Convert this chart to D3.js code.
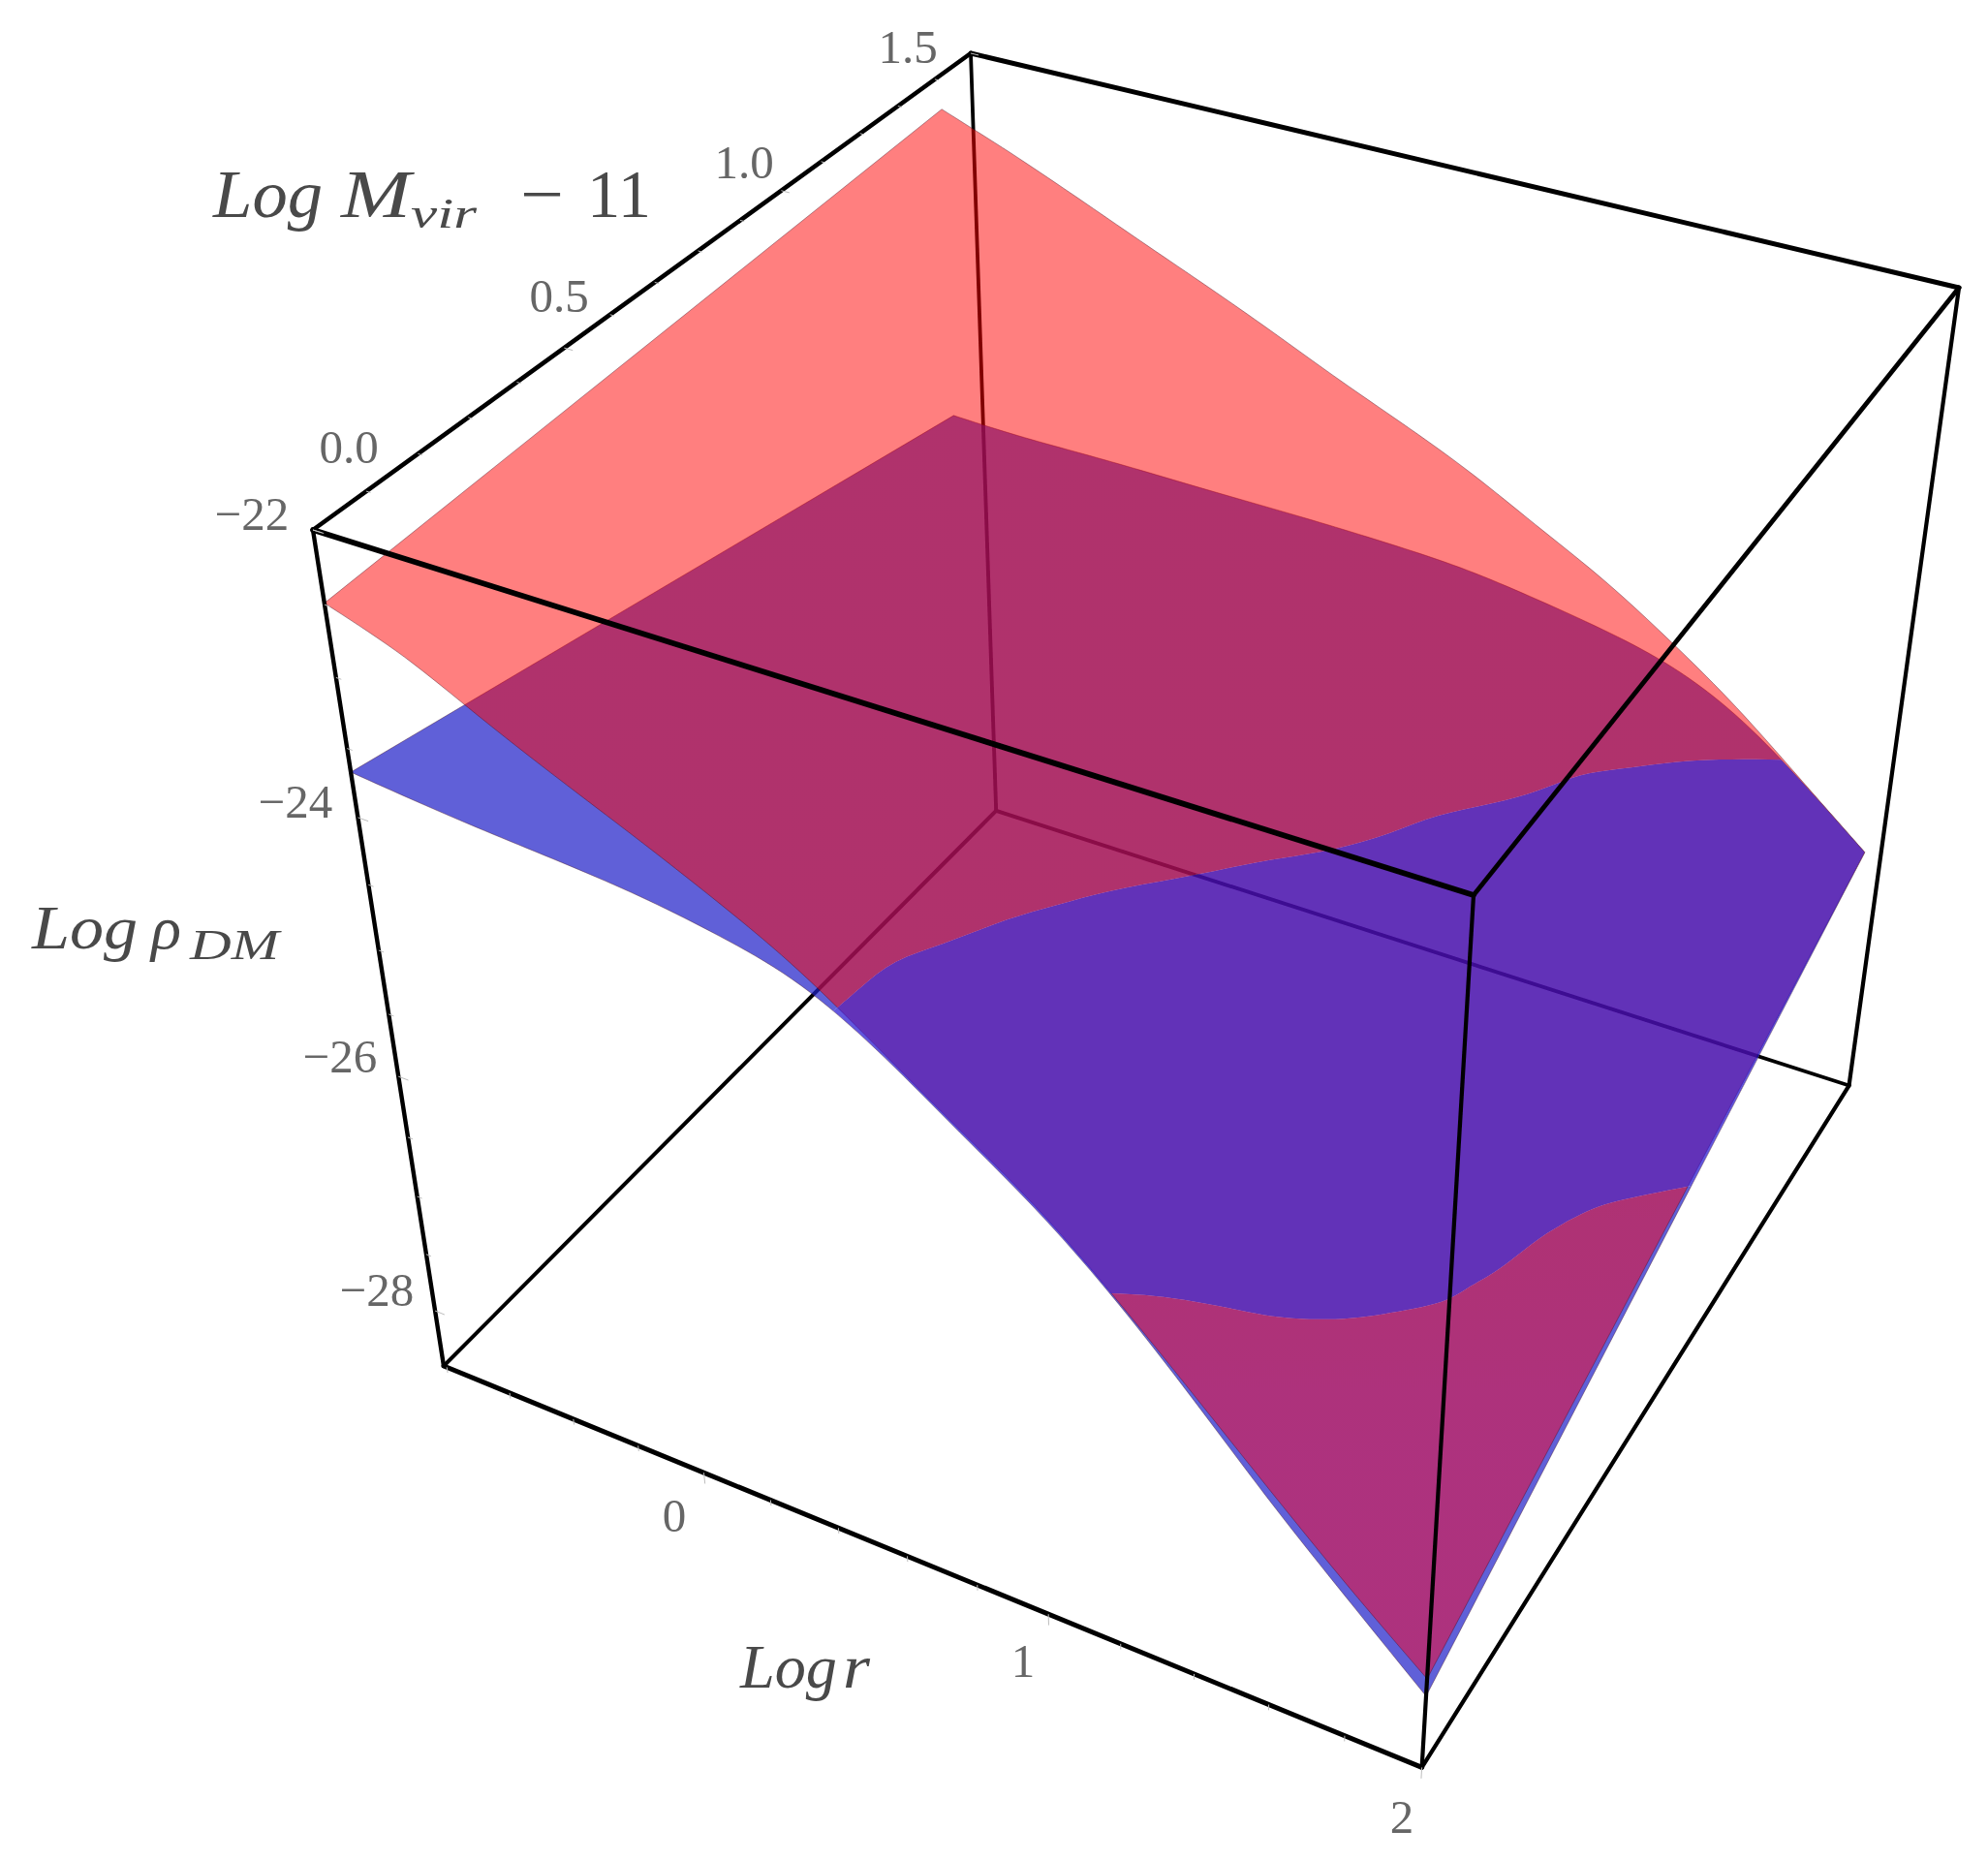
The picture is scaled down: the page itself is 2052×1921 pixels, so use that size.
<!DOCTYPE html>
<html><head><meta charset="utf-8"><style>html,body{margin:0;background:#fff}svg{display:block}</style>
<script src="https://cdn.jsdelivr.net/npm/d3@7"></script></head>
<body><svg id="c" width="2052" height="1921"></svg>
<script>
// ---------- data ----------
const logR = [-0.81,-0.6,-0.4,-0.2,0,0.2,0.4,0.6,0.8,1,1.2,1.4,1.6,1.8,2];
const redAtMin  = [-22.489,-22.670,-22.955,-23.205,-23.441,-23.696,-23.972,-24.360,-24.754,-25.124,-25.615,-26.155,-26.702,-27.234,-27.720];
const blueAtMin = [-23.670,-23.731,-23.774,-23.807,-23.854,-23.943,-24.063,-24.371,-24.774,-25.146,-25.624,-26.194,-26.798,-27.337,-27.870];
const redAtMax  = [-22.254,-22.452,-22.660,-22.880,-23.090,-23.311,-23.550,-23.763,-23.991,-24.278,-24.542,-24.882,-25.248,-25.692,-26.130];
const blueAtMax = [-24.684,-24.707,-24.702,-24.704,-24.715,-24.717,-24.724,-24.740,-24.766,-24.846,-24.937,-25.058,-25.298,-25.692,-26.130];
const massMin = 0, massMax = 1.4155;
const crossUpperR = [0.489,0.491,0.491,0.542,0.587,0.644,0.703,0.819,0.906,0.986,1.081,1.139,1.245,1.319,1.362,1.451,1.538,1.630,1.741];
const crossUpperM = [0,0.047,0.127,0.209,0.306,0.387,0.472,0.591,0.683,0.749,0.849,0.935,1.023,1.097,1.153,1.214,1.279,1.341,1.4155];
const crossLowerR = [2,1.884,1.840,1.779,1.748,1.706,1.688,1.610,1.542,1.442,1.390,1.260,1.182];
const crossLowerM = [0.803,0.697,0.650,0.559,0.483,0.422,0.385,0.312,0.248,0.173,0.142,0.062,0];
const rTickLabels = ["0","1","2"], mTickLabels = ["0.0","0.5","1.0","1.5"], rhoTickLabels = ["\u221222","\u221224","\u221226","\u221228"];

// ---------- layout ----------
const corner = {A:[323,547], D:[1521,924], B:[1002,55], E:[458,1410]};
const persp = {p:-0.1244, q:0.2356, s:0.18};
const rLabelPos = [[696,1564],[1056,1714],[1447,1875]];
const mLabelPos = [[360,461],[577,305],[768,167],[937,48]];
const rhoLabelPos = [[260,530],[305,827],[351,1090],[389,1331]];

const rScale = d3.scaleLinear().domain([-0.81,2]).range([0,1]);
const mScale = d3.scaleLinear().domain([0,1.5]).range([0,1]);
const zScale = d3.scaleLinear().domain([-22,-28.5]).range([0,1]);
const sub = (P,Q)=>[P[0]-Q[0],P[1]-Q[1]], mul=(P,k)=>[P[0]*k,P[1]*k];
const ax = sub(mul(corner.D,1+persp.p),corner.A), ay = sub(mul(corner.B,1+persp.q),corner.A), az = sub(mul(corner.E,1+persp.s),corner.A);
const project = (r,m,z)=>{
  const u=rScale(r), v=mScale(m), w=zScale(z), n=1+persp.p*u+persp.q*v+persp.s*w;
  return [0,1].map(i=>(corner.A[i]+ax[i]*u+ay[i]*v+az[i]*w)/n);
};
const rIndex = d3.scaleLinear().domain(logR).range(logR.map((_,i)=>i/(logR.length-1)));
const byR = a=>{const b=d3.interpolateBasis(a);return r=>b(Math.min(1,Math.max(0,rIndex(r))));};
const surface = (lo,hi)=>{
  const f0=byR(lo), f1=byR(hi), t=d3.scaleLinear().domain([massMin,massMax]).range([0,1]);
  return (r,m)=>{const a=t(m);return f0(r)*(1-a)+f1(r)*a;};
};
const redS = surface(redAtMin,redAtMax), blueS = surface(blueAtMin,blueAtMax);
const [r0,r1]=rScale.domain(), [m0,m1]=mScale.domain(), [z0,z1]=zScale.domain();
const fineR = d3.range(0,121).map(i=>r0+(r1-r0)*i/120);
const outline = S=>{
  const pts=[];
  fineR.forEach(r=>pts.push([r,massMin]));
  fineR.slice().reverse().forEach(r=>pts.push([r,massMax]));
  return pts.map(([r,m])=>project(r,m,S(r,m)));
};
const along=(rs,ms)=>{const a=d3.interpolateBasis(rs),b=d3.interpolateBasis(ms);return d3.range(0,81).map(i=>[a(i/80),b(i/80)]);};
const crossing = ()=>{
  const pts=along(crossUpperR,crossUpperM);
  fineR.filter(r=>r>crossUpperR[crossUpperR.length-1]).forEach(r=>pts.push([r,massMax]));
  along(crossLowerR,crossLowerM).forEach(p=>pts.push(p));
  fineR.slice().reverse().filter(r=>r<crossLowerR[crossLowerR.length-1]&&r>crossUpperR[0]).forEach(r=>pts.push([r,massMin]));
  return pts.map(([r,m])=>project(r,m,blueS(r,m)));
};
const line = d3.line();
const closed = pts=>line(pts)+"Z";

const svg = d3.select("#c");
const defs = svg.append("defs");
defs.append("filter").attr("id","soft").attr("filterUnits","userSpaceOnUse")
  .attr("x",0).attr("y",0).attr("width",2052).attr("height",1921)
  .append("feGaussianBlur").attr("stdDeviation",0.7);
defs.append("clipPath").attr("id","blueOnTop").append("path").attr("d",closed(crossing()));
const grad=defs.append("linearGradient").attr("id","redFill").attr("gradientUnits","userSpaceOnUse")
  .attr("x1",0).attr("x2",0).attr("y1",1050).attr("y2",1500);
grad.append("stop").attr("offset",0).attr("stop-color","rgb(255,0,0)");
grad.append("stop").attr("offset",1).attr("stop-color","rgb(250,0,36)");
const root = svg.append("g").attr("filter","url(#soft)");
root.append("rect").attr("width",2052).attr("height",1921).attr("fill","#fff");

const edge=(g,a,b,w)=>g.append("path").attr("d",line([project(...a),project(...b)])).attr("stroke","#000").attr("stroke-width",w).attr("stroke-linecap","round").attr("fill","none");
const drawBack=g=>{
  edge(g,[r0,m1,z0],[r0,m1,z1],3.8);
  edge(g,[r0,m1,z1],[r0,m0,z1],4);
  edge(g,[r0,m1,z1],[r1,m1,z1],3.8);
};
const surfPath=(g,S,fill,op)=>g.append("path").attr("d",closed(outline(S))).attr("fill",fill).attr("fill-opacity",op).attr("stroke","#401020").attr("stroke-opacity",0.4).attr("stroke-width",1);

// red above blue
drawBack(root);
surfPath(root,blueS,"rgb(28,28,199)",0.7);
surfPath(root,redS,"url(#redFill)",0.5);
// blue above red
const upperLayer=root.append("g").attr("clip-path","url(#blueOnTop)");
upperLayer.append("rect").attr("width",2052).attr("height",1921).attr("fill","#fff");
drawBack(upperLayer);
surfPath(upperLayer,redS,"rgb(255,0,0)",0.5);
surfPath(upperLayer,blueS,"rgb(31,14,208)",0.7);

// front edges
edge(root,[r0,m0,z0],[r1,m0,z0],5.8);
edge(root,[r0,m0,z0],[r0,m1,z0],4.6);
edge(root,[r0,m1,z0],[r1,m1,z0],5);
edge(root,[r1,m1,z0],[r1,m0,z0],4.8);
edge(root,[r0,m0,z0],[r0,m0,z1],4.4);
edge(root,[r1,m0,z0],[r1,m0,z1],4.2);
edge(root,[r1,m1,z0],[r1,m1,z1],4.2);
edge(root,[r0,m0,z1],[r1,m0,z1],5);
edge(root,[r1,m0,z1],[r1,m1,z1],4.2);

// ticks
const tick=(a,b)=>root.append("path").attr("d",line([project(...a),project(...b)])).attr("stroke","#bdbdbd").attr("stroke-width",1).attr("fill","none");
d3.range(-28,-21.9,0.5).forEach(z=>{const major=z%2===0;tick([r0,m0,z],[r0+(major?0.03:0.015),m0,z]);});
d3.range(0,1.51,0.1).forEach(m=>{const major=Math.abs(m*2-Math.round(m*2))<1e-6;tick([r0,m,z0],[r0+(major?0.025:0.012),m,z0]);});
d3.range(-0.8,2.01,0.2).forEach(r=>{const major=Math.abs(r-Math.round(r))<1e-6;tick([r,m0,z1],[r,m0,z1-(major?0.1:0.05)]);});

// labels
const font="'Liberation Serif',serif";
const label=(pos,s)=>root.append("text").attr("x",pos[0]).attr("y",pos[1]).attr("text-anchor","middle").attr("dominant-baseline","central")
   .attr("font-family",font).attr("font-size",49).attr("fill","#666").text(s);
rTickLabels.forEach((s,i)=>label(rLabelPos[i],s));
mTickLabels.forEach((s,i)=>label(mLabelPos[i],s));
rhoTickLabels.forEach((s,i)=>label(rhoLabelPos[i],s));
const piece=(x,y,size,s,italic,w)=>{const t=root.append("text").attr("x",x).attr("y",y).attr("font-family",font).attr("font-size",size).attr("fill","#4a4a4a").attr("font-style",italic?"italic":"normal").text(s);
  if(w) t.attr("textLength",w).attr("lengthAdjust","spacingAndGlyphs");};
piece(220,224,70,"Log",true,113);
piece(352,224,70,"M",true,72);
piece(424,235,44,"vir",true,68);
piece(537,224,70,"\u2212",false,45);
piece(606,224,70,"11",false,66);
piece(33,979,64,"Log",true,109);
piece(156,979,64,"\u03c1",true,31);
piece(196,990,45,"DM",true,92);
piece(764,1742,64,"Log",true,100);
piece(870,1742,64,"r",true,28);
</script></body></html>
